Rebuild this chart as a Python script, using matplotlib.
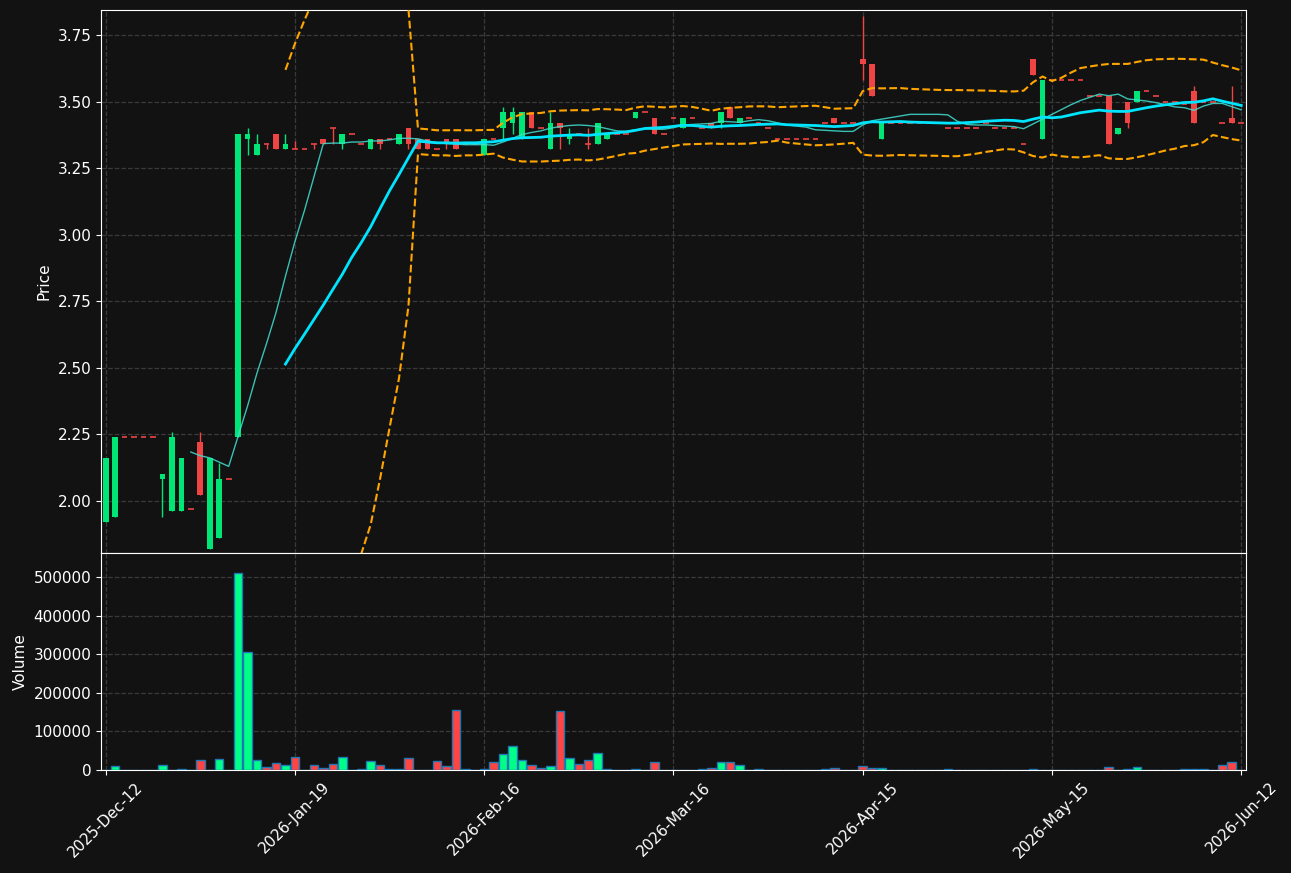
import numpy as np
import pandas as pd
import matplotlib
matplotlib.use("Agg")
import matplotlib.pyplot as plt

# daily OHLCV (index = trading day)
opens = [1.92, 1.94, 2.24, 2.24, 2.24, 2.24, 2.08, 1.96, 1.96, 1.97,
         2.22, 1.82, 1.86, 2.08, 2.24, 3.36, 3.30, 3.34, 3.38, 3.32,
         3.32, 3.32, 3.34, 3.36, 3.40, 3.34, 3.38, 3.34, 3.32, 3.36,
         3.36, 3.34, 3.40, 3.36, 3.36, 3.32, 3.36, 3.36, 3.34, 3.34,
         3.30, 3.36, 3.40, 3.42, 3.36, 3.46, 3.40, 3.32, 3.42, 3.36,
         3.38, 3.34, 3.34, 3.36, 3.38, 3.38, 3.44, 3.46, 3.44, 3.38,
         3.44, 3.40, 3.44, 3.40, 3.42, 3.42, 3.48, 3.42, 3.44, 3.42,
         3.40, 3.36, 3.36, 3.36, 3.36, 3.36, 3.42, 3.44, 3.42, 3.42,
         3.66, 3.64, 3.36, 3.42, 3.42, 3.42, 3.42, 3.42, 3.42, 3.40,
         3.40, 3.40, 3.40, 3.42, 3.40, 3.40, 3.40, 3.34, 3.66, 3.36,
         3.58, 3.58, 3.58, 3.58, 3.52, 3.52, 3.52, 3.38, 3.50, 3.50,
         3.54, 3.52, 3.50, 3.50, 3.49, 3.54, 3.50, 3.50, 3.42, 3.44,
         3.42]
highs = [2.16, 2.24, 2.24, 2.24, 2.24, 2.24, 2.10, 2.26, 2.16, 1.97,
         2.26, 2.16, 2.14, 2.08, 3.38, 3.40, 3.38, 3.34, 3.38, 3.38,
         3.35, 3.32, 3.34, 3.36, 3.40, 3.38, 3.38, 3.34, 3.36, 3.36,
         3.36, 3.38, 3.40, 3.36, 3.36, 3.32, 3.36, 3.36, 3.34, 3.34,
         3.36, 3.36, 3.48, 3.48, 3.46, 3.46, 3.40, 3.46, 3.42, 3.40,
         3.38, 3.40, 3.42, 3.38, 3.38, 3.38, 3.46, 3.46, 3.44, 3.38,
         3.44, 3.44, 3.44, 3.40, 3.42, 3.46, 3.48, 3.44, 3.44, 3.42,
         3.40, 3.36, 3.36, 3.36, 3.36, 3.36, 3.42, 3.44, 3.42, 3.42,
         3.82, 3.64, 3.42, 3.42, 3.42, 3.42, 3.42, 3.42, 3.42, 3.40,
         3.40, 3.40, 3.40, 3.42, 3.40, 3.40, 3.40, 3.34, 3.66, 3.58,
         3.58, 3.58, 3.58, 3.58, 3.52, 3.52, 3.52, 3.40, 3.50, 3.54,
         3.54, 3.52, 3.50, 3.50, 3.49, 3.56, 3.50, 3.50, 3.42, 3.56,
         3.42]
lows = [1.92, 1.94, 2.24, 2.24, 2.24, 2.24, 1.94, 1.96, 1.96, 1.97,
        2.02, 1.82, 1.86, 2.08, 2.24, 3.30, 3.30, 3.32, 3.32, 3.32,
        3.32, 3.32, 3.32, 3.34, 3.34, 3.32, 3.38, 3.34, 3.32, 3.32,
        3.36, 3.34, 3.32, 3.32, 3.32, 3.32, 3.32, 3.32, 3.34, 3.34,
        3.30, 3.36, 3.36, 3.38, 3.36, 3.40, 3.40, 3.32, 3.32, 3.34,
        3.38, 3.32, 3.34, 3.36, 3.38, 3.38, 3.44, 3.46, 3.38, 3.38,
        3.44, 3.40, 3.44, 3.40, 3.40, 3.40, 3.44, 3.42, 3.44, 3.42,
        3.40, 3.36, 3.36, 3.36, 3.36, 3.36, 3.42, 3.42, 3.42, 3.42,
        3.58, 3.52, 3.36, 3.42, 3.42, 3.42, 3.42, 3.42, 3.42, 3.40,
        3.40, 3.40, 3.40, 3.42, 3.40, 3.40, 3.40, 3.34, 3.60, 3.36,
        3.58, 3.58, 3.58, 3.58, 3.52, 3.52, 3.34, 3.38, 3.40, 3.50,
        3.54, 3.52, 3.50, 3.50, 3.49, 3.42, 3.50, 3.50, 3.42, 3.42,
        3.42]
closes = [2.16, 2.24, 2.24, 2.24, 2.24, 2.24, 2.10, 2.24, 2.16, 1.97,
          2.02, 2.16, 2.08, 2.08, 3.38, 3.38, 3.34, 3.34, 3.32, 3.34,
          3.32, 3.32, 3.34, 3.34, 3.40, 3.38, 3.38, 3.34, 3.36, 3.34,
          3.36, 3.38, 3.34, 3.32, 3.32, 3.32, 3.34, 3.32, 3.34, 3.34,
          3.36, 3.36, 3.46, 3.46, 3.46, 3.40, 3.40, 3.42, 3.40, 3.38,
          3.38, 3.34, 3.42, 3.38, 3.38, 3.38, 3.46, 3.46, 3.38, 3.38,
          3.44, 3.44, 3.44, 3.40, 3.40, 3.46, 3.44, 3.44, 3.44, 3.42,
          3.40, 3.36, 3.36, 3.36, 3.36, 3.36, 3.42, 3.42, 3.42, 3.42,
          3.64, 3.52, 3.42, 3.42, 3.42, 3.42, 3.42, 3.42, 3.42, 3.40,
          3.40, 3.40, 3.40, 3.42, 3.40, 3.40, 3.40, 3.34, 3.60, 3.58,
          3.58, 3.58, 3.58, 3.58, 3.52, 3.52, 3.34, 3.40, 3.42, 3.54,
          3.54, 3.52, 3.50, 3.50, 3.49, 3.42, 3.50, 3.50, 3.42, 3.42,
          3.42]
volumes = [0, 9600, 0, 0, 0, 0, 12200, 0, 1500, 0,
           25200, 0, 27800, 0, 512000, 306500, 25200, 7000, 17400, 12200,
           33000, 0, 12200, 4300, 14800, 33000, 0, 1500, 22600, 12200,
           1500, 1500, 30500, 0, 0, 22600, 9600, 155500, 1500, 0,
           1500, 20000, 40900, 61700, 25200, 12200, 4300, 9600, 152900, 30500,
           14800, 25200, 43400, 1500, 0, 0, 1500, 0, 20000, 0,
           0, 0, 0, 1500, 4300, 20000, 20000, 12200, 0, 1500,
           0, 0, 0, 0, 0, 0, 1500, 4300, 0, 0,
           9500, 4300, 4300, 0, 0, 0, 0, 0, 0, 1500,
           0, 0, 0, 0, 0, 0, 0, 0, 1500, 0,
           0, 0, 0, 0, 0, 0, 7000, 0, 1500, 7000,
           0, 0, 0, 0, 1500, 1500, 1500, 0, 12200, 20000,
           0]
tick_pos = [0, 20, 40, 60, 80, 100, 120]
tick_labels = ["2025-Dec-12", "2026-Jan-19", "2026-Feb-16", "2026-Mar-16",
               "2026-Apr-15", "2026-May-15", "2026-Jun-12"]

BG = "#121212"
UP = "#00e676"
DOWN = "#ef4444"
VUP = "#00ff88"
VDOWN = "#ff4444"

o = np.array(opens); h = np.array(highs); l = np.array(lows); c = np.array(closes)
v = np.array(volumes)
x = np.arange(len(c))

s = pd.Series(c)
sma10 = s.rolling(10).mean()
sma20 = s.rolling(20).mean()
std20 = s.rolling(20).std(ddof=0)
upper = sma20 + 2 * std20
lower = sma20 - 2 * std20

plt.rcParams["font.size"] = 11
fig = plt.figure(figsize=(12.91, 8.73), dpi=100, facecolor=BG)
gs = fig.add_gridspec(2, 1, height_ratios=[2.5, 1], hspace=0,
                      left=0.0782, right=0.9651, bottom=0.118, top=0.9885)
ax = fig.add_subplot(gs[0])
axv = fig.add_subplot(gs[1], sharex=ax)

up = c > o
cols = np.where(up, UP, DOWN)

# candles
ax.vlines(x, l, h, colors=cols, linewidth=1, zorder=3)
body = np.abs(c - o)
flat = body == 0
ax.bar(x[~flat], body[~flat], bottom=np.minimum(o, c)[~flat], width=0.6,
       color=cols[~flat], zorder=4)
ax.hlines(c[flat], x[flat] - 0.3, x[flat] + 0.3, colors=cols[flat], linewidth=1.2, zorder=4)

ax.plot(x, sma10, color="#40e0d0", linewidth=1, alpha=0.85, zorder=5)
ax.plot(x, sma20, color="#00e5ff", linewidth=2, zorder=5)
ax.plot(x, upper, color="orange", linestyle="--", linewidth=1.5, zorder=5)
ax.plot(x, lower, color="orange", linestyle="--", linewidth=1.5, zorder=5)

ax.set_ylim(1.804, 3.844)
ax.set_ylabel("Price", color="white")

# volume
vcols = np.where(up, VUP, VDOWN)
axv.bar(x, v, width=0.9, color=vcols, edgecolor="#1f77b4", linewidth=1, zorder=3)
axv.set_ylim(0, v.max() * 1.1)
axv.set_ylabel("Volume", color="white")

axv.set_xlim(-0.5, 120.5)
axv.set_xticks(tick_pos)
axv.set_xticklabels(tick_labels, rotation=45)
plt.setp(ax.get_xticklabels(), visible=False)

for a in (ax, axv):
    a.set_facecolor(BG)
    a.grid(True, linestyle="--", color="#3a3a3a", linewidth=0.9)
    a.set_axisbelow(True)
    a.tick_params(colors="white")
    for sp in a.spines.values():
        sp.set_color("white")

fig.savefig("out.png", dpi=100, facecolor=BG)
